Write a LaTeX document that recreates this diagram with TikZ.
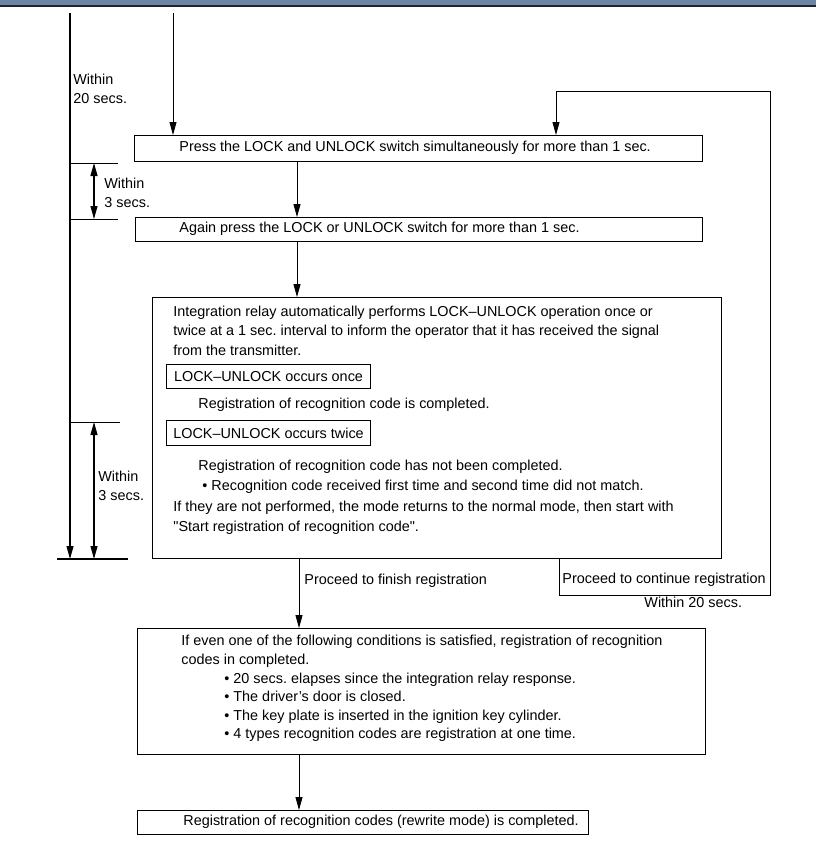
\documentclass[tikz,border=0pt]{standalone}
\usepackage{fontspec}
\setmainfont{Liberation Sans}[Ligatures=TeXOff]
\usetikzlibrary{positioning,calc,arrows.meta}
\definecolor{bandblue}{RGB}{108,134,164}
\definecolor{banddark}{RGB}{28,38,52}

\begin{document}
\begin{tikzpicture}[x=1bp,y=-1bp,line width=0.8bp,
		every node/.style={font=\fontsize{14.4bp}{19bp}\selectfont\frenchspacing,inner sep=0pt},
		box/.style={draw,line width=1.1bp,anchor=north west,inner sep=0pt},
		txt/.style={anchor=west,text height=10.5bp,text depth=3bp},
		lbl/.style={anchor=west,align=left},
		arr/.style={-{Triangle[length=13bp,width=7bp]}},
		dbl/.style={{Triangle[length=13bp,width=7bp]}-{Triangle[length=13bp,width=7bp]},line width=1.1bp}]
			\useasboundingbox (0,0) rectangle (816,858);
			\fill[bandblue] (0,0) rectangle (816,6);
			\draw[banddark,line width=1.5bp] (0,6) -- (816,6);
			
			\begin{scope}
				% boxes
				\node[box,minimum width=568bp,minimum height=26bp] (press) at (134,135) {};
				\node[box,minimum width=567bp,minimum height=24bp] (again) at (135,217) {};
				\node[box,minimum width=569bp,minimum height=261bp] (relay) at (152,297) {};
				\node[box,minimum width=568bp,minimum height=126bp] (cond) at (137,628) {};
				\node[box,minimum width=451bp,minimum height=24bp] (done) at (137,810) {};
				
				\node[txt] (presst) at (179,148) {Press the LOCK and UNLOCK switch simultaneously for more than 1 sec.};
				\node[txt] (againt) at (179,229) {Again press the LOCK or UNLOCK switch for more than 1 sec.};
				
				\node[txt] (r1) at (173,313) {Integration relay automatically performs LOCK–UNLOCK operation once or};
				\node[txt] (r2) at (173,332) {twice at a 1 sec. interval to inform the operator that it has received the signal};
				\node[txt] (r3) at (173,352) {from the transmitter.};
				\node[box,minimum width=204bp,minimum height=24bp] (once) at (166,364) {LOCK–UNLOCK occurs once};
				\node[txt] (r4) at (198,405) {Registration of recognition code is completed.};
				\node[box,minimum width=204bp,minimum height=25bp] (twice) at (166,420) {LOCK–UNLOCK occurs twice};
				\node[txt] (r5) at (198,467) {Registration of recognition code has not been completed.};
				\node[txt] (r6) at (202,487) {• Recognition code received first time and second time did not match.};
				\node[txt] (r7) at (173,508) {If they are not performed, the mode returns to the normal mode, then start with};
				\node[txt] (r8) at (173,528) {"Start registration of recognition code".};
				
				\node[txt] (c1) at (181,642) {If even one of the following conditions is satisfied, registration of recognition};
				\node[txt] (c2) at (181,661) {codes in completed.};
				\node[txt] (c3) at (224,680) {• 20 secs. elapses since the integration relay response.};
				\node[txt] (c4) at (224,698) {• The driver’s door is closed.};
				\node[txt] (c5) at (224,717) {• The key plate is inserted in the ignition key cylinder.};
				\node[txt] (c6) at (224,735) {• 4 types recognition codes are registration at one time.};
				\node[txt] (donet) at (183,822) {Registration of recognition codes (rewrite mode) is completed.};
				
				% flow
				\coordinate (in) at (173,13);
				\coordinate (ax) at (297,0);
				\coordinate (fx) at (299,0);
				\coordinate (cx) at (559,595);
				\coordinate (lp) at (770,91);
				\coordinate (lx) at (556,91);
				\draw[arr] (in) -- (in |- press.north);
				\draw[arr] (ax |- press.south) -- (ax |- again.north);
				\draw[arr] (ax |- again.south) -- (ax |- relay.north);
				\draw[arr] (fx |- relay.south) -- (fx |- cond.north);
				\draw[arr] (fx |- cond.south) -- (fx |- done.north);
				\draw[arr] (cx |- relay.south) -- (cx) -| (lp) -| (lx |- press.north);
				\node[txt] (fin) at (304,581) {Proceed to finish registration};
				\node[txt] (cont) at (562,580) {Proceed to continue registration};
				\node[txt] (w20b) at (644,604) {Within 20 secs.};
				
				% timing marks on the left
				\coordinate (L) at (70,13);
				\coordinate (Lb) at (70,559);
				\coordinate (bl) at (57,559);
				\coordinate (br) at (128,559);
				\coordinate (t1) at (118,163);
				\coordinate (t2) at (118,219);
				\coordinate (t3) at (120,422);
				\draw[arr,line width=1.1bp] (L) -- (Lb);
				\draw[line width=1.1bp] (bl) -- (br);
				\draw (L |- t1) -- (t1);
				\draw (L |- t2) -- (t2);
				\draw (L |- t3) -- (t3);
				\draw[dbl] (94,163) -- (94,219);
				\draw[dbl] (94,422) -- (94,559);
				\node[lbl] (w20) at (73,89) {Within\\20 secs.};
				\node[lbl] (w3a) at (104,193) {Within\\3 secs.};
				\node[lbl] (w3b) at (98,486) {Within\\3 secs.};
			\end{scope}
		\end{tikzpicture}
\end{document}
